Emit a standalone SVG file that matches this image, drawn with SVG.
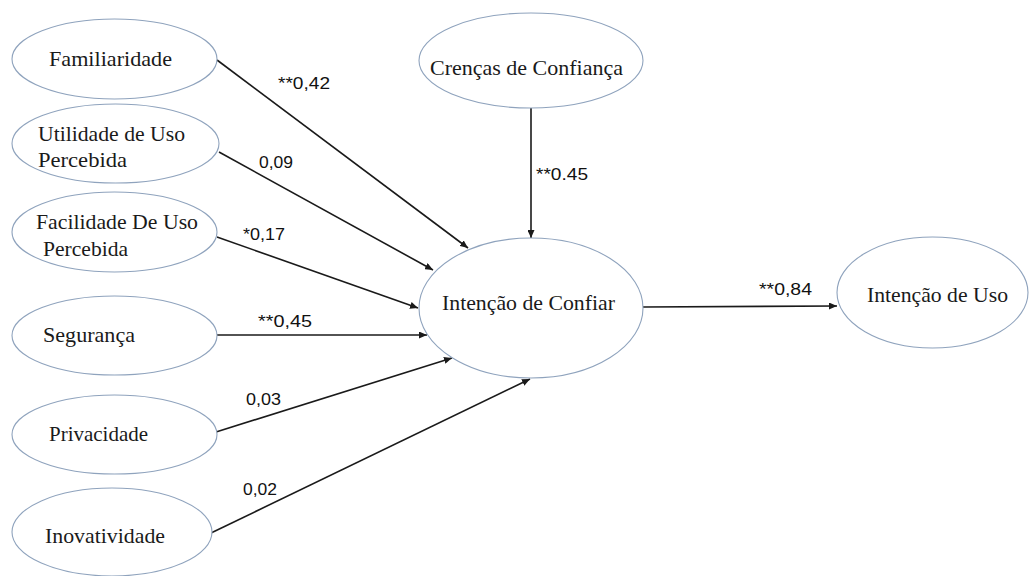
<svg xmlns="http://www.w3.org/2000/svg" width="1029" height="576" viewBox="0 0 1029 576">
<defs>
<style>
.node ellipse{fill:#ffffff;stroke:#8fa3bd;stroke-width:1.1}
.node text{font-family:"Liberation Serif","Times New Roman",serif;font-size:21px;fill:#1a1a1a}
.lbl{font-family:"Liberation Sans",Arial,sans-serif;font-size:17px;fill:#111}
.conn line{stroke:#1a1a1a;stroke-width:1.6;fill:none;marker-end:url(#arr)}
</style>
<marker id="arr" markerUnits="userSpaceOnUse" markerWidth="9" markerHeight="7" refX="8" refY="3.5" orient="auto">
<path d="M0,0 L8,3.5 L0,7 z" fill="#1a1a1a"/>
</marker>
</defs>
<rect width="1029" height="576" fill="#ffffff"/>
<g id="connectors" class="conn">
<line x1="217" y1="60" x2="468" y2="248"/>
<line x1="219" y1="152" x2="433" y2="270"/>
<line x1="217" y1="237" x2="418" y2="308"/>
<line x1="217" y1="335" x2="427" y2="335"/>
<line x1="216" y1="432" x2="452" y2="358"/>
<line x1="211" y1="533" x2="530" y2="379"/>
<line x1="531" y1="108" x2="531" y2="238"/>
<line x1="643" y1="307" x2="837" y2="306"/>
</g>
<g id="labels">
<text class="lbl" x="278" y="89" textLength="52" lengthAdjust="spacingAndGlyphs">**0,42</text>
<text class="lbl" x="259" y="168" textLength="34" lengthAdjust="spacingAndGlyphs">0,09</text>
<text class="lbl" x="243" y="240" textLength="42" lengthAdjust="spacingAndGlyphs">*0,17</text>
<text class="lbl" x="258" y="327" textLength="54" lengthAdjust="spacingAndGlyphs">**0,45</text>
<text class="lbl" x="246" y="405" textLength="35" lengthAdjust="spacingAndGlyphs">0,03</text>
<text class="lbl" x="243" y="495" textLength="34" lengthAdjust="spacingAndGlyphs">0,02</text>
<text class="lbl" x="536" y="180" textLength="52" lengthAdjust="spacingAndGlyphs">**0.45</text>
<text class="lbl" x="759" y="295" textLength="53" lengthAdjust="spacingAndGlyphs">**0,84</text>
</g>
<g id="familiaridade" class="node">
<ellipse cx="114.5" cy="59" rx="102.5" ry="40"/>
<text x="49" y="66" textLength="123" lengthAdjust="spacingAndGlyphs">Familiaridade</text>
</g>
<g id="utilidade" class="node">
<ellipse cx="115.5" cy="143.5" rx="103.5" ry="39.5"/>
<text x="38" y="141" textLength="147" lengthAdjust="spacingAndGlyphs">Utilidade de Uso</text>
<text x="38" y="167" textLength="89" lengthAdjust="spacingAndGlyphs">Percebida</text>
</g>
<g id="facilidade" class="node">
<ellipse cx="114.5" cy="232" rx="102.5" ry="40"/>
<text x="36" y="229" textLength="162" lengthAdjust="spacingAndGlyphs">Facilidade De Uso</text>
<text x="43" y="256" textLength="85" lengthAdjust="spacingAndGlyphs">Percebida</text>
</g>
<g id="seguranca" class="node">
<ellipse cx="114.5" cy="335.5" rx="102.5" ry="39.5"/>
<text x="43" y="342" textLength="92" lengthAdjust="spacingAndGlyphs">Segurança</text>
</g>
<g id="privacidade" class="node">
<ellipse cx="114.5" cy="434.5" rx="102.5" ry="39.5"/>
<text x="49" y="441" textLength="99" lengthAdjust="spacingAndGlyphs">Privacidade</text>
</g>
<g id="inovatividade" class="node">
<ellipse cx="112" cy="532" rx="100" ry="44"/>
<text x="45" y="543" textLength="120" lengthAdjust="spacingAndGlyphs">Inovatividade</text>
</g>
<g id="crencas" class="node">
<ellipse cx="531" cy="60.5" rx="112" ry="47.5"/>
<text x="430" y="75" textLength="193" lengthAdjust="spacingAndGlyphs">Crenças de Confiança</text>
</g>
<g id="intencao-confiar" class="node">
<ellipse cx="531" cy="308" rx="112" ry="70"/>
<text x="442" y="310" textLength="173" lengthAdjust="spacingAndGlyphs">Intenção de Confiar</text>
</g>
<g id="intencao-uso" class="node">
<ellipse cx="932.5" cy="292.5" rx="95.5" ry="55.5"/>
<text x="867" y="302" textLength="141" lengthAdjust="spacingAndGlyphs">Intenção de Uso</text>
</g>
</svg>
